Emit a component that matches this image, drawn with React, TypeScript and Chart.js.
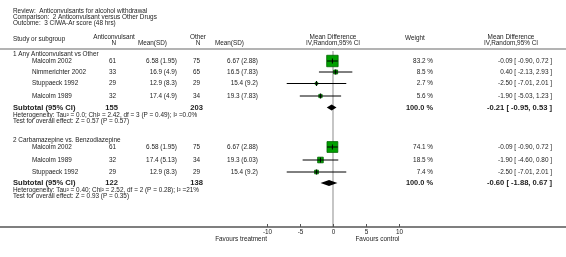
import React, { useEffect, useRef } from "react";
import { Chart, registerables } from "chart.js";
Chart.register(...registerables);

// ---------------- data ----------------
const titleLines = [
  "Review:  Anticonvulsants for alcohol withdrawal",
  "Comparison:  2 Anticonvulsant versus Other Drugs",
  "Outcome:  3 CIWA-Ar score (48 hrs)",
];

const g1Label = "1 Any Anticonvulsant vs Other";
const g1Studies = ["Malcolm 2002", "Nimmerichter 2002", "Stuppaeck 1992", "Malcolm 1989"];
const g1ExpN = [61, 33, 29, 32];
const g1ExpMeanSD = ["6.58 (1.95)", "16.9 (4.9)", "12.9 (8.3)", "17.4 (4.9)"];
const g1CtlN = [75, 65, 29, 34];
const g1CtlMeanSD = ["6.67 (2.88)", "16.5 (7.83)", "15.4 (9.2)", "19.3 (7.83)"];
const g1Weight = [83.2, 8.5, 2.7, 5.6];
const g1MD = [-0.09, 0.4, -2.5, -1.9];
const g1Lo = [-0.9, -2.13, -7.01, -5.03];
const g1Hi = [0.72, 2.93, 2.01, 1.23];
const g1TotalN = [155, 203];
const g1TotalMD = [-0.21, -0.95, 0.53];
const g1Het = "Heterogeneity: Tau\u00B2 = 0.0; Chi\u00B2 = 2.42, df = 3 (P = 0.49); I\u00B2 =0.0%";
const g1Test = "Test for overall effect: Z = 0.57 (P = 0.57)";

const g2Label = "2 Carbamazepine vs. Benzodiazepine";
const g2Studies = ["Malcolm 2002", "Malcolm 1989", "Stuppaeck 1992"];
const g2ExpN = [61, 32, 29];
const g2ExpMeanSD = ["6.58 (1.95)", "17.4 (5.13)", "12.9 (8.3)"];
const g2CtlN = [75, 34, 29];
const g2CtlMeanSD = ["6.67 (2.88)", "19.3 (6.03)", "15.4 (9.2)"];
const g2Weight = [74.1, 18.5, 7.4];
const g2MD = [-0.09, -1.9, -2.5];
const g2Lo = [-0.9, -4.6, -7.01];
const g2Hi = [0.72, 0.8, 2.01];
const g2TotalN = [122, 138];
const g2TotalMD = [-0.6, -1.88, 0.67];
const g2Het = "Heterogeneity: Tau\u00B2 = 0.40; Chi\u00B2 = 2.52, df = 2 (P = 0.28); I\u00B2 =21%";
const g2Test = "Test for overall effect: Z = 0.93 (P = 0.35)";

const axisTicks = [-10, -5, 0, 5, 10];
const favLeft = "Favours treatment";
const favRight = "Favours control";

// ---------------- layout ----------------
const W = 566;
const H = 257;
const X_MIN = -50.45;
const X_MAX = 35.3;
const FONT = '"Liberation Sans", Arial, Helvetica, sans-serif';
const TEXT = "#222222";

const LY = {
  title: [11, 17, 23],
  head1: 37,
  head2: 43,
  sep: 49,
  zeroTop: 51,
  axis: 227,
  tickLabel: 232,
  fav: 239,
};
const G1Y = { label: 54.5, rows: [61, 72, 83.5, 96], sub: 107.5, het: 115.5, test: 121.5 };
const G2Y = { label: 140.5, rows: [147, 160, 172], sub: 183, het: 190.5, test: 196.5 };

const LX = {
  left: 13,
  indent: 32,
  expN: 116,
  expMean: 177,
  ctlN: 200,
  ctlMean: 258,
  weight: 433,
  ci: 552,
};

const groups = [
  {
    label: g1Label, studies: g1Studies, expN: g1ExpN, expMean: g1ExpMeanSD, ctlN: g1CtlN,
    ctlMean: g1CtlMeanSD, weight: g1Weight, md: g1MD, lo: g1Lo, hi: g1Hi,
    totN: g1TotalN, totMD: g1TotalMD, het: g1Het, test: g1Test, y: G1Y,
  },
  {
    label: g2Label, studies: g2Studies, expN: g2ExpN, expMean: g2ExpMeanSD, ctlN: g2CtlN,
    ctlMean: g2CtlMeanSD, weight: g2Weight, md: g2MD, lo: g2Lo, hi: g2Hi,
    totN: g2TotalN, totMD: g2TotalMD, het: g2Het, test: g2Test, y: G2Y,
  },
];

const ci = (m: number, l: number, h: number) =>
  `${m.toFixed(2)} [ ${l.toFixed(2)}, ${h.toFixed(2)} ]`;

function txt(ctx: CanvasRenderingContext2D, s: string, x: number, y: number, align: CanvasTextAlign, font: string) {
  ctx.font = font;
  ctx.textAlign = align;
  ctx.textBaseline = "middle";
  ctx.fillStyle = TEXT;
  ctx.fillText(s, x, y);
}

const forestPlugin = {
  id: "forestPlugin",
  afterDatasetsDraw(chart: any) {
    const ctx: CanvasRenderingContext2D = chart.ctx;
    const xs = chart.scales.x;
    const ys = chart.scales.y;
    ctx.save();
    groups.forEach((g) => {
      const [m, l, h] = g.totMD;
      const yc = ys.getPixelForValue(g.y.sub);
      const half = 3;
      ctx.beginPath();
      ctx.moveTo(xs.getPixelForValue(l), yc);
      ctx.lineTo(xs.getPixelForValue(m), yc - half);
      ctx.lineTo(xs.getPixelForValue(h), yc);
      ctx.lineTo(xs.getPixelForValue(m), yc + half);
      ctx.closePath();
      ctx.fillStyle = "#000";
      ctx.fill();
    });
    ctx.restore();
  },
  afterDraw(chart: any) {
    const ctx: CanvasRenderingContext2D = chart.ctx;
    const xs = chart.scales.x;
    const ys = chart.scales.y;
    ctx.save();
    const f = `6.4px ${FONT}`;
    const fb = `bold 7.6px ${FONT}`;
    const fb2 = `bold 7.4px ${FONT}`;

    titleLines.forEach((s, i) => txt(ctx, s, LX.left, LY.title[i], "left", f));

    // header
    txt(ctx, "Study or subgroup", LX.left, 39, "left", f);
    txt(ctx, "Anticonvulsant", LX.expN - 2, LY.head1, "center", f);
    txt(ctx, "N", LX.expN, LY.head2, "right", f);
    txt(ctx, "Mean(SD)", 167, LY.head2, "right", f);
    txt(ctx, "Other", LX.ctlN - 2, LY.head1, "center", f);
    txt(ctx, "N", LX.ctlN - 2, LY.head2, "center", f);
    txt(ctx, "Mean(SD)", 244, LY.head2, "right", f);
    const zx = xs.getPixelForValue(0);
    txt(ctx, "Mean Difference", zx, LY.head1, "center", f);
    txt(ctx, "IV,Random,95% CI", zx, LY.head2, "center", f);
    txt(ctx, "Weight", 415, LY.head1 + 1, "center", f);
    txt(ctx, "Mean Difference", 511, LY.head1, "center", f);
    txt(ctx, "IV,Random,95% CI", 511, LY.head2, "center", f);

    // separator (full width)
    const left = xs.getPixelForValue(X_MIN);
    const right = xs.getPixelForValue(X_MAX);
    ctx.strokeStyle = "#9a9a9a";
    ctx.lineWidth = 1.5;
    ctx.beginPath();
    ctx.moveTo(left, ys.getPixelForValue(LY.sep));
    ctx.lineTo(right, ys.getPixelForValue(LY.sep));
    ctx.stroke();

    groups.forEach((g) => {
      txt(ctx, g.label, LX.left, g.y.label, "left", f);
      g.studies.forEach((s, i) => {
        const y = g.y.rows[i];
        txt(ctx, s, LX.indent, y, "left", f);
        txt(ctx, String(g.expN[i]), LX.expN, y, "right", f);
        txt(ctx, g.expMean[i], LX.expMean, y, "right", f);
        txt(ctx, String(g.ctlN[i]), LX.ctlN, y, "right", f);
        txt(ctx, g.ctlMean[i], LX.ctlMean, y, "right", f);
        txt(ctx, g.weight[i].toFixed(1) + " %", LX.weight, y, "right", f);
        txt(ctx, ci(g.md[i], g.lo[i], g.hi[i]), LX.ci, y, "right", f);
      });
      txt(ctx, "Subtotal (95% CI)", LX.left, g.y.sub, "left", fb);
      txt(ctx, String(g.totN[0]), LX.expN + 2, g.y.sub, "right", fb);
      txt(ctx, String(g.totN[1]), LX.ctlN + 3, g.y.sub, "right", fb);
      const tw = g.weight.reduce((a, b) => a + b, 0);
      txt(ctx, tw.toFixed(1) + " %", LX.weight, g.y.sub, "right", fb2);
      txt(ctx, ci(g.totMD[0], g.totMD[1], g.totMD[2]), LX.ci, g.y.sub, "right", fb);
      txt(ctx, g.het, LX.left, g.y.het, "left", f);
      txt(ctx, g.test, LX.left, g.y.test, "left", f);
    });

    // axis
    const ay = ys.getPixelForValue(LY.axis);
    ctx.strokeStyle = "#555";
    ctx.lineWidth = 1.5;
    ctx.beginPath();
    ctx.moveTo(left, ay);
    ctx.lineTo(right, ay);
    ctx.stroke();
    ctx.lineWidth = 1;
    axisTicks.forEach((t) => {
      const px = Math.round(xs.getPixelForValue(t)) + 0.5;
      ctx.beginPath();
      ctx.moveTo(px, ay - 3);
      ctx.lineTo(px, ay);
      ctx.stroke();
      txt(ctx, String(t), px, LY.tickLabel, "center", f);
    });
    txt(ctx, favLeft, xs.getPixelForValue(-10), LY.fav, "right", f);
    txt(ctx, favRight, xs.getPixelForValue(3.4), LY.fav, "left", f);
    ctx.restore();
  },
};

function buildDatasets() {
  const ds: any[] = [];
  groups.forEach((g) => {
    ds.push({
      data: g.md.map((m, i) => ({ x: m, y: g.y.rows[i] })),
      pointStyle: "line",
      rotation: 90,
      pointRadius: 2.5,
      borderColor: "#000",
      borderWidth: 1,
      order: 0,
    });
  });
  groups.forEach((g) => {
    g.md.forEach((_, i) => {
      ds.push({
        data: [
          { x: g.lo[i], y: g.y.rows[i] },
          { x: g.hi[i], y: g.y.rows[i] },
        ],
        showLine: true,
        borderColor: "#000",
        borderWidth: 1,
        pointRadius: 0,
        order: 1,
      });
    });
  });
  groups.forEach((g) => {
    ds.push({
      data: g.md.map((m, i) => ({ x: m, y: g.y.rows[i] })),
      pointStyle: "rect",
      pointRadius: g.weight.map((w) => (1.2 * Math.sqrt(w) + 0.5) / Math.SQRT2),
      backgroundColor: "#00a000",
      borderColor: "#006400",
      borderWidth: 0.8,
      order: 3,
    });
  });
  ds.push({
    data: [
      { x: 0, y: LY.zeroTop },
      { x: 0, y: LY.axis },
    ],
    showLine: true,
    borderColor: "#bdbdbd",
    borderWidth: 1,
    pointRadius: 0,
    order: 5,
  });
  return ds;
}

export default function App() {
  const ref = useRef<HTMLCanvasElement>(null);
  useEffect(() => {
    document.body.style.margin = "0";
    const canvas = ref.current!;
    const chart = new Chart(canvas, {
      type: "scatter",
      data: { datasets: buildDatasets() },
      options: {
        responsive: false,
        animation: false,
        devicePixelRatio: 1,
        events: [],
        layout: { padding: 0, autoPadding: false },
        plugins: { legend: { display: false }, tooltip: { enabled: false } },
        scales: {
          x: { type: "linear", min: X_MIN, max: X_MAX, display: false },
          y: { type: "linear", min: 0, max: H, reverse: true, display: false },
        },
      },
      plugins: [forestPlugin],
    } as any);
    return () => chart.destroy();
  }, []);
  return (
    <canvas
      ref={ref}
      width={W}
      height={H}
      style={{ display: "block", width: W, height: H, background: "#fff" }}
    />
  );
}
